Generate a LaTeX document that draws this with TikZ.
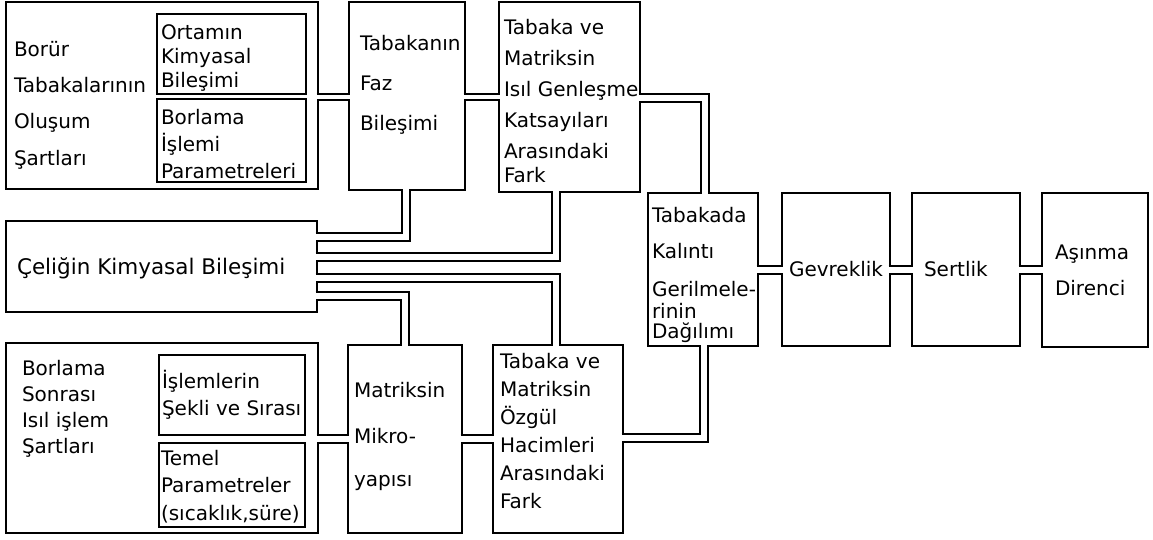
\documentclass[tikz,border=0pt]{standalone}
\usepackage{fontspec}
\setmainfont{DejaVu Sans}
\newcommand\mybox[5]{\node[box, minimum width={#4-#2}, minimum height={#5-#3}] (#1) at ({(#2+#4)/2},{(#3+#5)/2}) {};}
\tikzset{
  box/.style={draw=black, line width=2.4pt, rectangle, inner sep=0pt, outer sep=0pt},
  dbl/.style={draw=black, line width=2.2pt, double=white, double distance=6.4pt, shorten <=-1.4pt, shorten >=-1.4pt},
  dblthin/.style={dbl, double distance=3.6pt},
  txt/.style={font=\fontsize{20}{#1}\selectfont, align=left, anchor=base west, inner sep=0pt, outer sep=0pt},
  txt/.default=24}
\begin{document}
\lineskiplimit=-100pt
\begin{tikzpicture}[x=1pt,y=-1pt]
\useasboundingbox (0,0) rectangle (1153,539);
\fill[white] (0,0) rectangle (1153,539);
% boxes
\mybox{A}{6}{2}{318}{189}
\mybox{A1}{157}{14}{306}{94}
\mybox{A2}{157}{99}{306}{182}
\mybox{B}{349}{2}{465}{190}
\mybox{C}{499}{2}{640}{192}
\mybox{K}{6}{221}{317}{312}
\mybox{L}{6}{343}{318}{533}
\mybox{L1}{159}{355}{305}{435}
\mybox{L2}{159}{443}{305}{527}
\mybox{M}{348}{345}{462}{533}
\mybox{H}{493}{345}{623}{533}
\mybox{D}{648}{193}{758}{346}
\mybox{E}{782}{193}{890}{346}
\mybox{F}{912}{193}{1020}{346}
\mybox{G}{1042}{193}{1148}{347}
% texts
\node[txt=36.3] (tA) at (14,165) {Borür\\Tabakalarının\\Oluşum\\Şartları};
\node[txt=24] (tA1) at (161,87) {Ortamın\\Kimyasal\\Bileşimi};
\node[txt=27] (tA2) at (161,178) {Borlama\\İşlemi\\Parametreleri};
\node[txt=40] (tB) at (360,130) {Tabakanın\\Faz\\Bileşimi};
\node[txt=31] (tC) at (504,182) {Tabaka ve\\Matriksin\\Isıl Genleşme\\Katsayıları\\Arasındaki\\[-7pt]Fark};
\node[txt, font=\fontsize{21.5}{24}\selectfont] (tK) at (17,274) {Çeliğin Kimyasal Bileşimi};
\node[txt=26] (tL) at (22,453) {Borlama\\Sonrası\\Isıl işlem\\Şartları};
\node[txt=27] (tL1) at (162,415) {İşlemlerin\\Şekli ve Sırası};
\node[txt=27.5] (tL2) at (161,520) {Temel\\Parametreler\\(sıcaklık,süre)};
\node[txt=46] (tM) at (354,486) {Matriksin\\Mikro-\\[-3pt]yapısı};
\node[txt=28] (tH) at (500,508) {Tabaka ve\\Matriksin\\Özgül\\Hacimleri\\Arasındaki\\Fark};
\node[txt=20] (tD) at (652,338) {Tabakada\\[16pt]Kalıntı\\[18pt]Gerilmele-\\[2pt]rinin\\Dağılımı};
\node[txt] (tE) at (789,276) {Gevreklik};
\node[txt] (tF) at (924,276) {Sertlik};
\node[txt=36] (tG) at (1055,295) {Aşınma\\Direnci};
% connectors
\draw[dblthin] (A.east |- 0,97) -- (B.west |- 0,97);
\draw[dblthin] (B.east |- 0,97) -- (C.west |- 0,97);
\draw[dbl] (C.east |- 0,98) -| (D.north -| 705,0);
\draw[dbl] (K.east |- 0,237) -| (B.south -| 406,0);
\draw[dbl] (K.east |- 0,257) -| (C.south -| 556,0);
\draw[dbl] (K.east |- 0,278) -| (H.north -| 556,0);
\draw[dbl] (K.east |- 0,296) -| (M.north -| 405,0);
\draw[dbl] (H.east |- 0,438) -| (D.south -| 704,0);
\draw[dbl] (L.east |- 0,439) -- (M.west |- 0,439);
\draw[dbl] (M.east |- 0,439) -- (H.west |- 0,439);
\draw[dbl] (D.east |- 0,270) -- (E.west |- 0,270);
\draw[dbl] (E.east |- 0,270) -- (F.west |- 0,270);
\draw[dbl] (F.east |- 0,270) -- (G.west |- 0,270);
\end{tikzpicture}
\end{document}
